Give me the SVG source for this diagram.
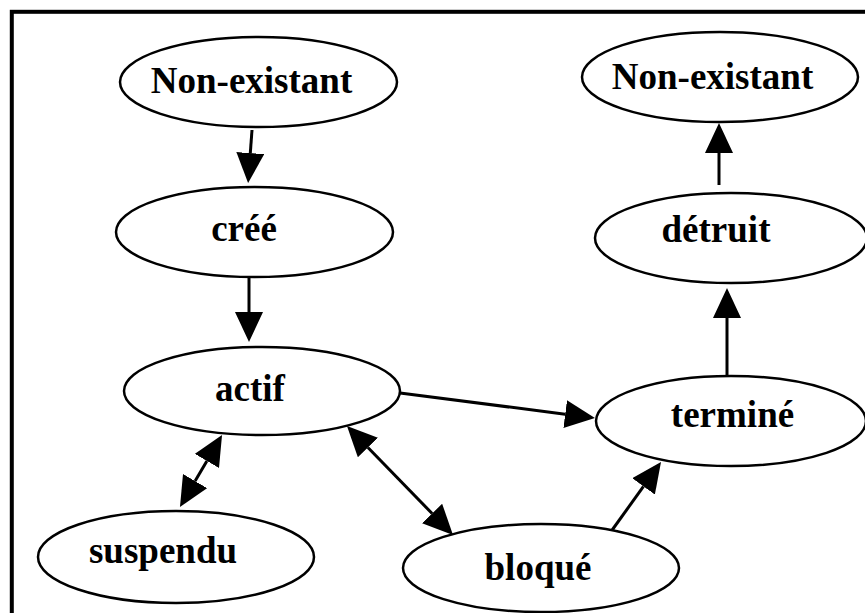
<svg xmlns="http://www.w3.org/2000/svg" width="865" height="613" viewBox="0 0 865 613">
<style>
.node ellipse{fill:#fff;stroke:#000;stroke-width:2.5}
.node text{font-family:"Liberation Serif","Times New Roman",serif;font-weight:bold;font-size:37px;fill:#000;text-anchor:middle}
.edges path{fill:none;stroke:#000;stroke-width:3}
</style>
<defs>
<marker id="ah" viewBox="0 0 30 28" refX="0" refY="14" markerWidth="30" markerHeight="28" markerUnits="userSpaceOnUse" orient="auto-start-reverse">
<path d="M0,0 L30,14 L0,28 z" fill="#000"/>
</marker>
</defs>
<rect x="0" y="0" width="865" height="613" fill="#fff"/>
<rect x="11.8" y="11.8" width="900" height="700" fill="none" stroke="#000" stroke-width="4"/>
<g class="edges">
<path d="M252,130 L250.3,153.1" marker-end="url(#ah)"/>
<path d="M249,278 L249,312" marker-end="url(#ah)"/>
<path d="M206.9,460.9 L195.1,481.1" marker-start="url(#ah)" marker-end="url(#ah)"/>
<path d="M367.9,447.5 L432.1,513.5" marker-start="url(#ah)" marker-end="url(#ah)"/>
<path d="M400,393 L565.2,414.2" marker-end="url(#ah)"/>
<path d="M610,533 L643.5,486.4" marker-end="url(#ah)"/>
<path d="M727,376 L727,318" marker-end="url(#ah)"/>
<path d="M719,185 L719,153" marker-end="url(#ah)"/>
</g>
<g id="nonexistant1" class="node"><ellipse cx="258.5" cy="82" rx="138.5" ry="45"/><text x="251.5" y="93">Non-existant</text></g>
<g id="cree" class="node"><ellipse cx="254.5" cy="232" rx="138.5" ry="45"/><text x="244" y="241">créé</text></g>
<g id="actif" class="node"><ellipse cx="262" cy="391" rx="138" ry="44"/><text x="250" y="401">actif</text></g>
<g id="suspendu" class="node"><ellipse cx="176" cy="557" rx="138" ry="46"/><text x="163" y="563">suspendu</text></g>
<g id="bloque" class="node"><ellipse cx="541" cy="568" rx="138" ry="44"/><text x="538" y="580">bloqué</text></g>
<g id="termine" class="node"><ellipse cx="731" cy="421" rx="135" ry="45"/><text x="732.5" y="427">terminé</text></g>
<g id="detruit" class="node"><ellipse cx="731" cy="238" rx="136" ry="45"/><text x="716" y="242">détruit</text></g>
<g id="nonexistant2" class="node"><ellipse cx="720" cy="77" rx="138" ry="45"/><text x="712.5" y="89">Non-existant</text></g>
</svg>
